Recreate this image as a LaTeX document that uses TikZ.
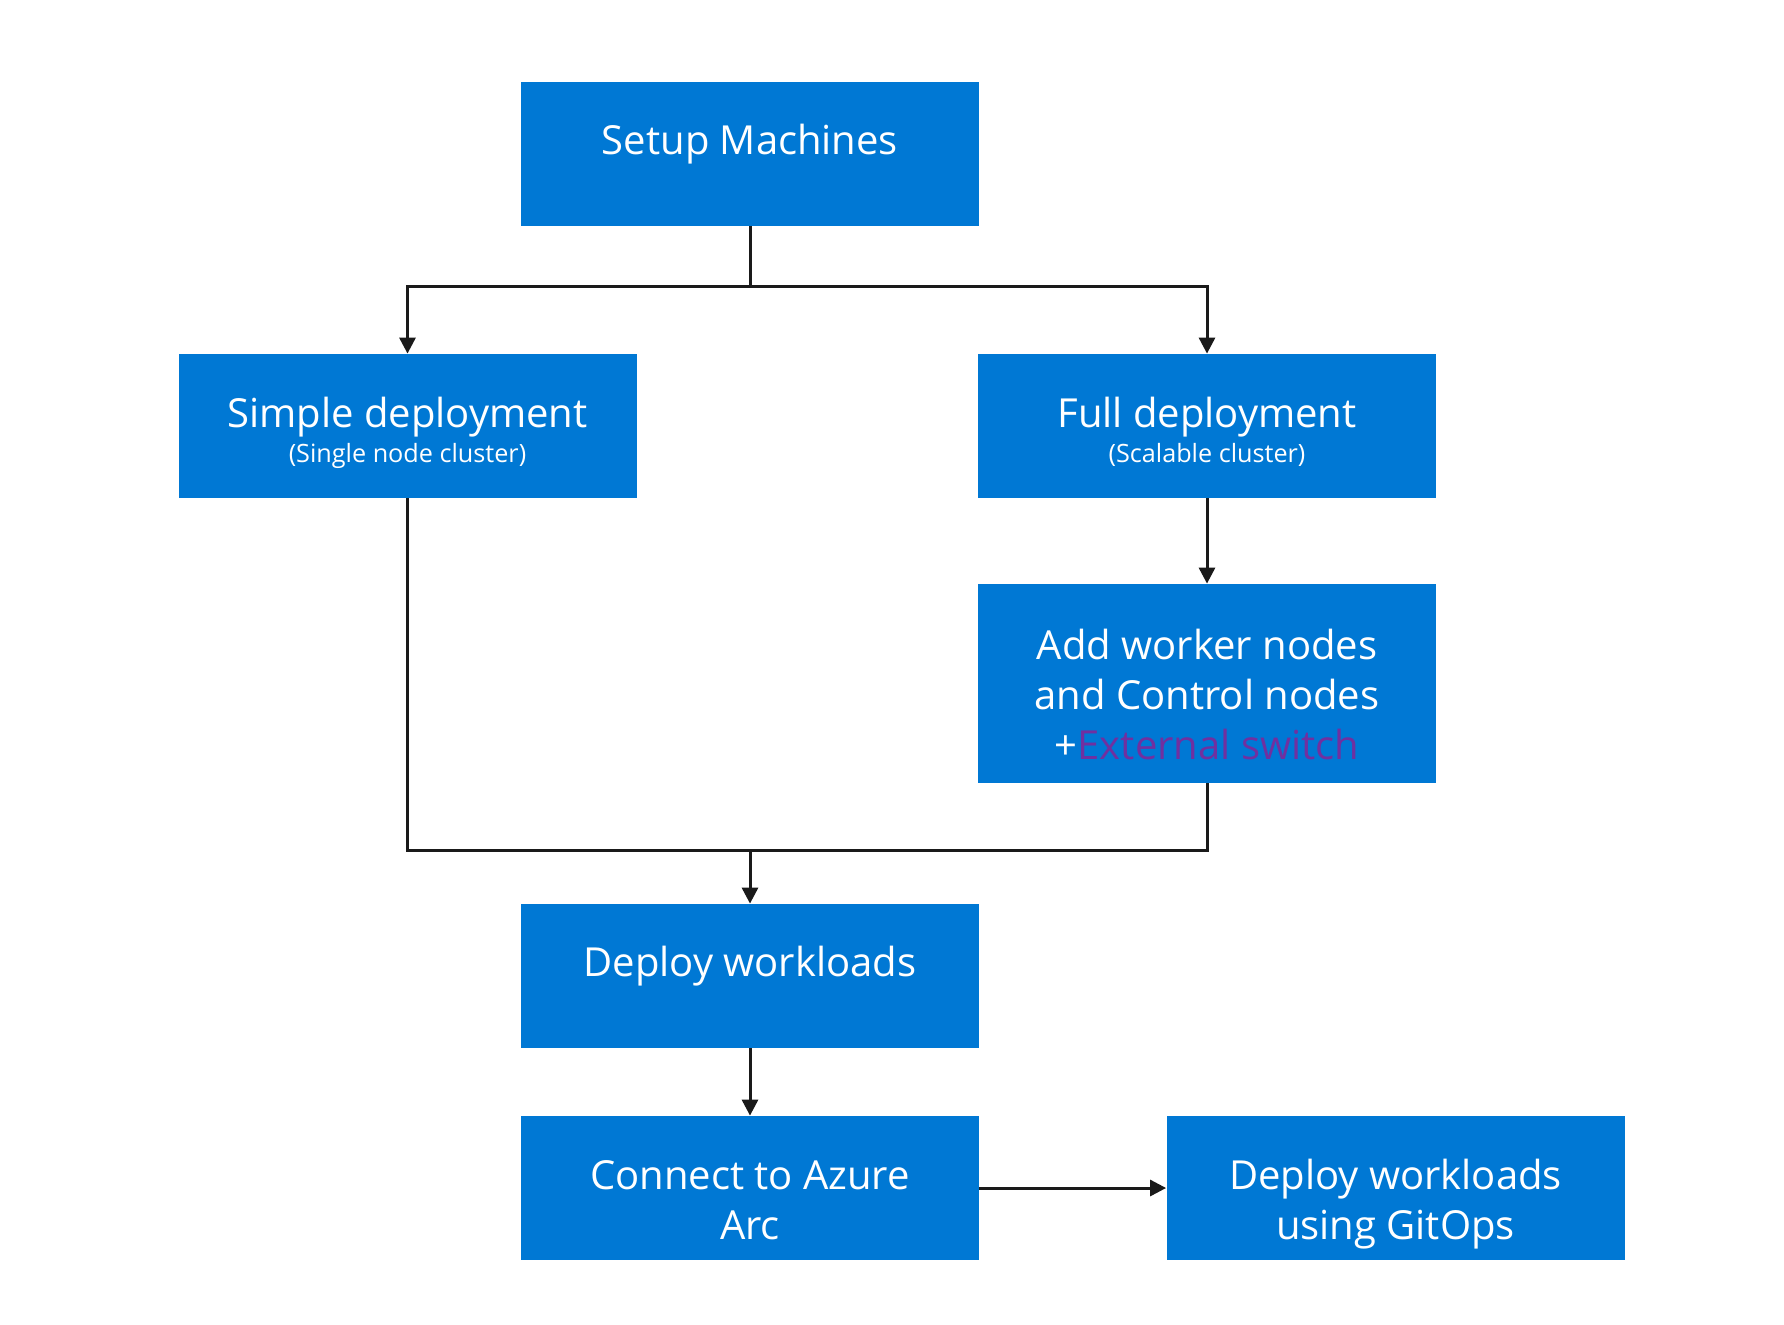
\documentclass[tikz,border=0pt]{standalone}
\usepackage{fontspec}
\setmainfont{Open Sans}
\usetikzlibrary{arrows.meta}

\definecolor{azure}{RGB}{0,120,212}
\definecolor{switchpurple}{RGB}{112,48,160}
\definecolor{linegray}{RGB}{26,26,26}

\begin{document}
\begin{tikzpicture}[x=0.5pt,y=-0.5pt,
  box/.style={rectangle,fill=azure,text=white,minimum width=229pt,minimum height=72pt,
    inner sep=0pt,align=center,font=\fontsize{20}{25}\selectfont,
    text height=10pt,text depth=10pt},
  twolines/.style={text height=61pt,text depth=10pt},
  link/.style={draw=linegray,line width=1.5pt},
  arr/.style={link,-{Triangle[length=8pt,width=8pt]}}]
\useasboundingbox (0,0) rectangle (1784,1324);

\node [box] (setup) at (750,154) {Setup Machines};
\node [box,text height=46pt] (simple) at (407.5,426) {Simple deployment\\[-7.5pt]{\fontsize{12.6}{14}\selectfont (Single node cluster)}};
\node [box,text height=46pt] (full) at (1207,426) {Full deployment\\[-7.5pt]{\fontsize{12.6}{14}\selectfont (Scalable cluster)}};
\node [box,minimum height=99.5pt,text height=80.5pt,text depth=5pt] (add) at (1207,683.5)
  {Add worker nodes\\and Control nodes\\+\textcolor{switchpurple}{External switch}};
\node [box] (deploy) at (750,976) {Deploy workloads};
\node [box,twolines] (connect) at (750,1188) {Connect to Azure\\Arc};
\node [box,twolines] (gitops) at (1395.5,1188) {Deploy workloads\\using GitOps};

% split and merge points
\coordinate (split) at (750,286);
\coordinate (merge) at (750,850);

\draw [link] (setup) -- (split);
\draw [arr] (split) -| (simple);
\draw [arr] (split) -| (full);
\draw [arr] (full) -- (add);
\draw [link] (simple) |- (merge);
\draw [link] (add) |- (merge);
\draw [arr] (merge) -- (deploy);
\draw [arr] (deploy) -- (connect);
\draw [arr] (connect) -- (gitops);
\end{tikzpicture}
\end{document}
